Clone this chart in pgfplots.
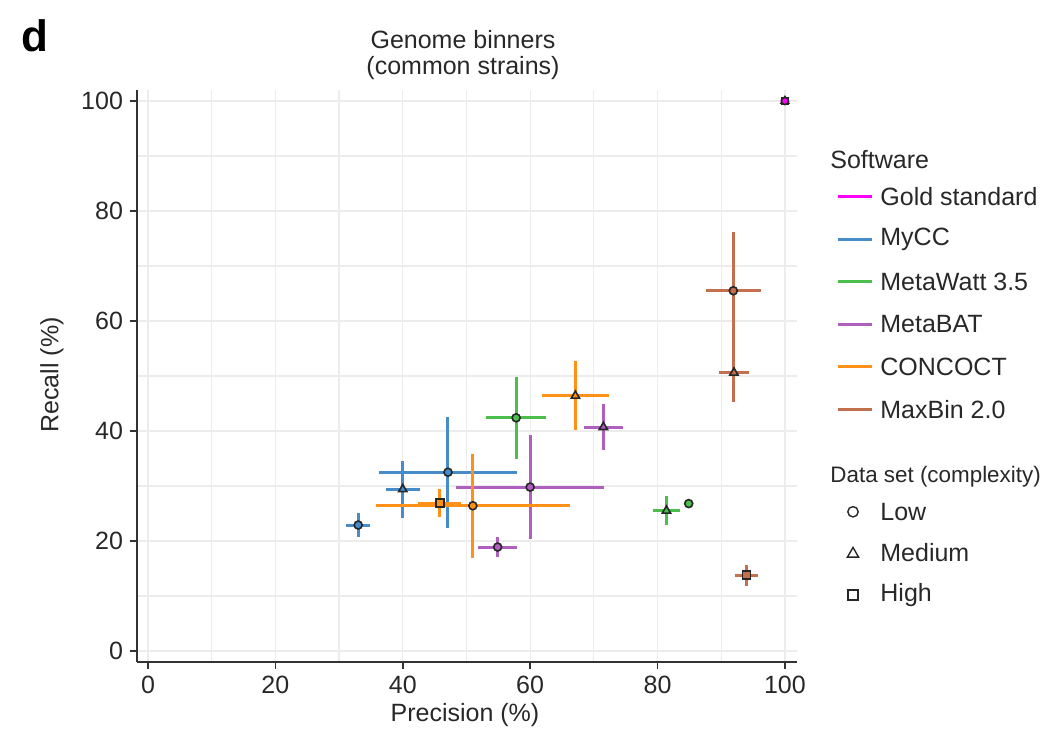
\documentclass[border=0pt]{standalone}
\usepackage{fontspec}
\setmainfont{Liberation Sans}
\usepackage{pgfplots}
\pgfplotsset{compat=1.18}
\usepackage{pgfplotstable}

\definecolor{cGold}{RGB}{255,0,255}
\definecolor{cMyCC}{RGB}{70,140,200}
\definecolor{cWatt}{RGB}{75,190,75}
\definecolor{cBAT}{RGB}{175,95,190}
\definecolor{cCON}{RGB}{255,145,25}
\definecolor{cMax}{RGB}{195,112,78}
\definecolor{txt}{RGB}{40,40,40}

% x = precision, y = recall, ex / ey = error half-widths
\pgfplotstableread{
x y ex ey
100 100 0 0
}\gold
\pgfplotstableread{
x y ex ey
33.0 22.9 1.9 2.2
47.1 32.5 10.9 10.1
}\myccC
\pgfplotstableread{
x y ex ey
40.0 29.4 2.7 5.2
}\myccT
\pgfplotstableread{
x y ex ey
57.8 42.4 4.7 7.5
84.9 26.8 0.4 0.5
}\wattC
\pgfplotstableread{
x y ex ey
81.4 25.5 2.1 2.6
}\wattT
\pgfplotstableread{
x y ex ey
60.0 29.8 11.6 9.5
54.9 18.9 3.1 1.8
}\batC
\pgfplotstableread{
x y ex ey
71.5 40.7 3.1 4.2
}\batT
\pgfplotstableread{
x y ex ey
51.0 26.4 15.2 9.5
}\conC
\pgfplotstableread{
x y ex ey
67.1 46.4 5.3 6.3
}\conT
\pgfplotstableread{
x y ex ey
45.8 26.9 3.4 2.6
}\conS
\pgfplotstableread{
x y ex ey
91.9 65.5 4.3 10.6
}\maxC
\pgfplotstableread{
x y ex ey
92.0 50.6 2.3 5.3
}\maxT
\pgfplotstableread{
x y ex ey
94.0 13.8 1.8 1.9
}\maxS

\newcommand{\ser}[4]{%
\addplot[only marks, mark=#2, mark size=#3,
  mark options={fill=#1, draw=black!85, line width=0.8pt, solid},
  error bars/.cd, x dir=both, y dir=both, x explicit, y explicit,
  error mark=none, error bar style={line width=1.5pt, #1}]
  table[x=x, y=y, x error=ex, y error=ey]{#4};}

\begin{document}
\begin{tikzpicture}[font=\fontsize{12.5}{14}\selectfont, text=txt]
\useasboundingbox (-68.5pt,-40.5pt) rectangle (462pt,331pt);
\begin{axis}[
  at={(0pt,0pt)}, anchor=south west,
  scale only axis, width=330pt, height=286pt,
  xmin=-1.73, xmax=101.9, ymin=-2, ymax=102,
  xtick={0,20,...,100}, ytick={0,20,...,100},
  minor xtick={10,30,...,90}, minor ytick={10,30,...,90},
  grid=both,
  major grid style={gray!15, line width=0.6pt},
  minor grid style={gray!15, line width=0.6pt},
  minor tick length=0pt,
  axis x line*=bottom, axis y line*=left,
  axis line style={black!80, line width=1pt, -},
  tick style={black!80, line width=0.8pt},
  major tick length=3.5pt, tick align=outside,
  /pgf/number format/assume math mode=true,
  ticklabel style={font=\fontsize{12.5}{14}\selectfont, text=txt},
  clip=false,
]
\ser{cMyCC}{*}{2pt}{\myccC}
\ser{cMyCC}{triangle*}{2.4pt}{\myccT}
\ser{cWatt}{*}{2pt}{\wattC}
\ser{cWatt}{triangle*}{2.4pt}{\wattT}
\ser{cBAT}{*}{2pt}{\batC}
\ser{cBAT}{triangle*}{2.4pt}{\batT}
\ser{cCON}{*}{2pt}{\conC}
\ser{cCON}{square*}{2pt}{\conS}
\ser{cCON}{triangle*}{2.4pt}{\conT}
\ser{cMax}{*}{2pt}{\maxC}
\ser{cMax}{triangle*}{2.4pt}{\maxT}
\ser{cMax}{square*}{2pt}{\maxS}
\ser{cGold}{square*}{1.8pt}{\gold}
\ser{cGold}{triangle*}{2.2pt}{\gold}
\ser{cGold}{*}{1.8pt}{\gold}
\end{axis}

% panel letter, title, axis labels
\node[font=\fontsize{22}{24}\selectfont\bfseries, text=black] at (-51pt,313pt) {d};
\node at (163pt,311pt) {Genome binners};
\node at (163pt,297pt) {(common strains)};
\node[rotate=90] at (-42.5pt,143.5pt) {Recall (\%)};
\node at (164pt,-26.5pt) {Precision (\%)};

% legend
\begin{scope}[font=\fontsize{12.5}{14}\selectfont]
\node[anchor=west, inner sep=0pt] at (346.5pt,251pt) {Software};
\foreach \c/\t/\y in {cGold/Gold standard/232.6, cMyCC/MyCC/211.4, cWatt/MetaWatt 3.5/190.1,
  cBAT/MetaBAT/168.9, cCON/CONCOCT/147.5, cMax/MaxBin 2.0/126.3}{
  \draw[\c, line width=1.5pt] (350.5pt,\y pt) -- (367.5pt,\y pt);
  \node[anchor=west, inner sep=0pt] at (371.5pt,\y pt) {\t};
}
\node[anchor=west, inner sep=0pt, font=\fontsize{11.2}{13}\selectfont] at (346.5pt,92.6pt) {Data set (complexity)};
\draw[black!85, line width=0.7pt] (358pt,75.1pt) circle (2.6pt);
\node[anchor=west, inner sep=0pt] at (371.5pt,75.1pt) {Low};
\draw[black!85, line width=0.7pt] (355.2pt,52.4pt) -- (360.8pt,52.4pt) -- (358pt,57.3pt) -- cycle;
\node[anchor=west, inner sep=0pt] at (371.5pt,54.5pt) {Medium};
\draw[black!85, line width=0.7pt] (355.5pt,31pt) rectangle (360.5pt,36pt);
\node[anchor=west, inner sep=0pt] at (371.5pt,33.5pt) {High};
\end{scope}
\end{tikzpicture}
\end{document}
